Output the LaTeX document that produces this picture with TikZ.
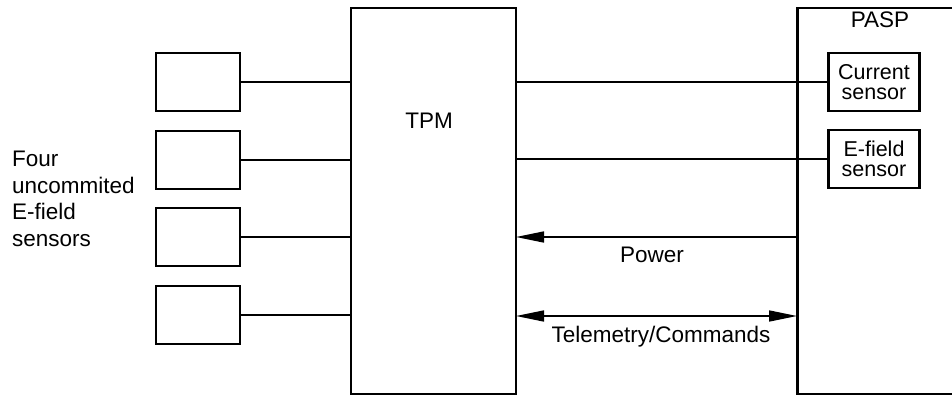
\documentclass[tikz,border=0pt]{standalone}
\usepackage{fontspec}
\setmainfont{Liberation Sans}
\usetikzlibrary{arrows.meta}
\begin{document}
\begin{tikzpicture}[x=1pt,y=-1pt,
  txt/.style={font=\fontsize{22.5}{26.5}\selectfont, inner sep=0pt},
  box/.style={draw, line width=2.5pt, inner sep=0pt, outer sep=0pt},
  sbox/.style={box, minimum width=84pt, minimum height=58pt},
  pbox/.style={box, minimum width=91pt, minimum height=58pt, align=center,
     font=\fontsize{21.5}{20}\selectfont},
  conn/.style={line width=1.6pt},
  arr/.style={-{Triangle[length=28pt,width=11pt]}},
  darr/.style={{Triangle[length=28pt,width=11pt]}-{Triangle[length=28pt,width=11pt]}}]
\useasboundingbox (0,0) rectangle (952,396);
\clip (0,0) rectangle (952,396);
% main blocks
\node[box, minimum width=165pt, minimum height=386pt] (tpm) at (433.5,201) {};
\node[box, minimum width=200pt, minimum height=386pt] (pasp) at (897.5,201) {};
\node[txt, anchor=base] (tpmlab) at (429,128.3) {TPM};
\node[txt, anchor=base] (pasplab) at (880,27.3) {PASP};
% left sensors
\node[sbox] (s1) at (198,82) {};
\node[sbox] (s2) at (198,160) {};
\node[sbox] (s3) at (198,237) {};
\node[sbox] (s4) at (198,315) {};
\node[txt, anchor=north west, align=left] (four) at (12,151) {Four\\uncommited\\E-field\\sensors};
% PASP sensors
\node[pbox] (cur) at (874,82) {Current\\sensor};
\node[pbox] (ef) at (874,159) {E-field\\sensor};
% connectors
\foreach \s in {s1,s2,s3,s4} \draw[conn] (\s.east) -- (\s.east -| tpm.west);
\draw[conn] (cur.west -| tpm.east) -- (cur.west);
\draw[conn] (ef.west -| tpm.east) -- (ef.west);
\coordinate (pw) at (797,237);
\coordinate (tc) at (797,316);
\draw[conn, arr] (pw) -- (pw -| tpm.east);
\draw[conn, darr] (tc -| tpm.east) -- (tc);
\node[txt, anchor=base] (powlab) at (652,262.7) {Power};
\node[txt, anchor=base] (tclab) at (661,342.5) {Telemetry/Commands};
\end{tikzpicture}
\end{document}
